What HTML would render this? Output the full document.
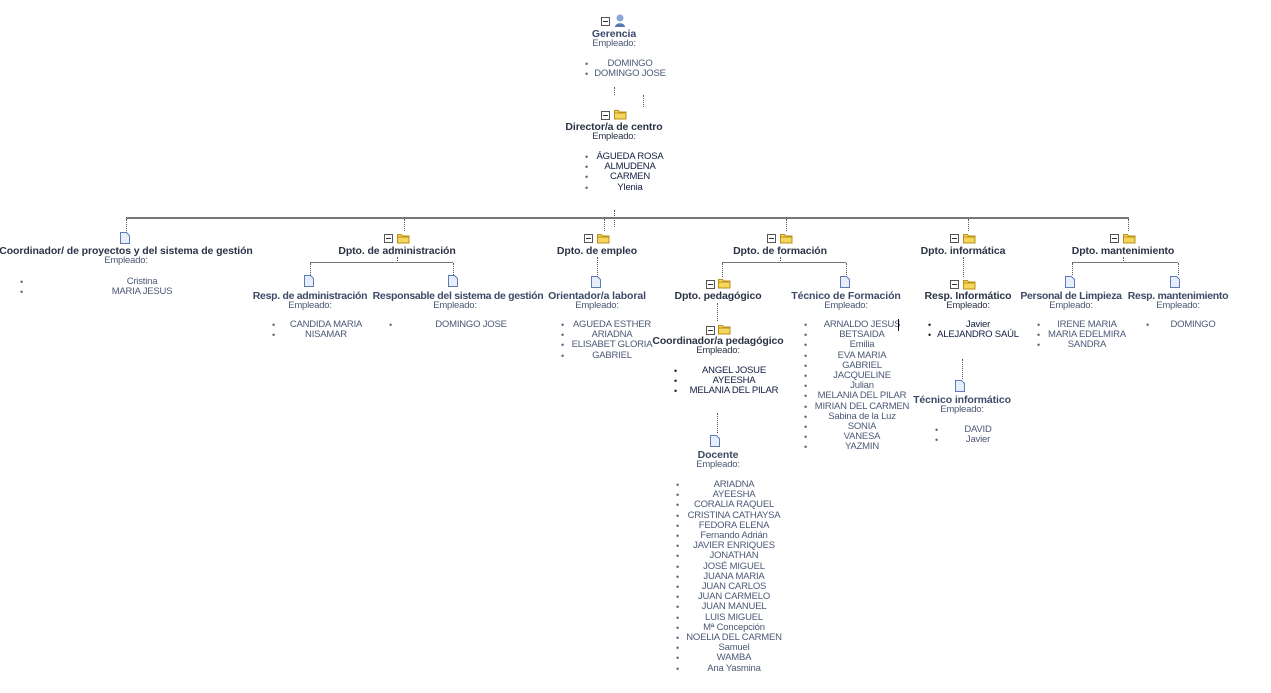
<!DOCTYPE html>
<html><head><meta charset="utf-8"><style>
body{margin:0;width:1271px;height:692px;background:#fff;overflow:hidden;font-family:"Liberation Sans","DejaVu Sans",sans-serif}
#w{position:absolute;left:0;top:1px;width:1271px;height:692px}
.t{position:absolute;width:300px;margin-left:-150px;text-align:center;white-space:nowrap;font-size:9.5px;color:#4b5875;line-height:10.2px;letter-spacing:-0.2px}
.b{font-weight:bold;font-size:10.5px;color:#2b3346;letter-spacing:-0.1px}
.d{color:#121c40}
.u{position:absolute;font-size:9px;line-height:10.2px;color:#667}
.h{position:absolute;height:0;border-top:2px solid #777}
.v{position:absolute;width:0;border-left:1px dotted #555}
.m{position:absolute;width:7px;height:7px;border:1px solid #555;background:#fff}
.m:after{content:"";position:absolute;left:1px;top:3px;width:5px;height:1px;background:#333}
svg{position:absolute}
</style></head><body><div id="w">
<svg width="0" height="0"><defs>
<g id="f"><path d="M0.5 2.5h4l1 1.5h6.5v7h-11.5z" fill="#f6d65a" stroke="#b8901a"/><path d="M0.5 5h11.5" stroke="#b8901a"/></g>
<g id="p"><path d="M0.5 0.5h6l3 3v8h-9z" fill="#e8eef9" stroke="#5a7ab8"/></g>
</defs></svg>

<div class="m" style="left:601px;top:16px"></div>
<svg style="left:614px;top:13px" width="12" height="14"><circle cx="6" cy="4" r="3.5" fill="#8aa6d6"/><path d="M1 13c0-5 10-5 10 0z" fill="#5a78b8"/></svg>
<div class="t b" style="left:614px;top:28px;color:#3a4a6a">Gerencia</div>
<div class="t" style="left:614px;top:38px">Empleado:</div>
<div class="u" style="left:585px;top:58px">•<br>•</div>
<div class="t" style="left:630px;top:58px">DOMINGO<br>DOMINGO JOSE</div>
<div class="v" style="left:614px;top:86px;height:8px"></div>
<div class="v" style="left:643px;top:94px;height:12px"></div>

<div class="m" style="left:601px;top:110px"></div>
<svg style="left:614px;top:107px" width="13" height="12"><use href="#f"/></svg>
<div class="t b" style="left:614px;top:121px">Director/a de centro</div>
<div class="t" style="left:614px;top:131px;color:#2b3346">Empleado:</div>
<div class="u" style="left:585px;top:151px">•<br>•<br>•<br>•</div>
<div class="t d" style="left:630px;top:151px">ÁGUEDA ROSA<br>ALMUDENA<br>CARMEN<br>Ylenia</div>
<div class="v" style="left:614px;top:209px;height:6px"></div>
<div class="h" style="left:126px;top:216px;width:1003px"></div>
<div class="v" style="left:614px;top:219px;height:7px"></div>

<div class="v" style="left:126px;top:218px;height:12px"></div>
<div class="v" style="left:404px;top:218px;height:12px"></div>
<div class="v" style="left:604px;top:218px;height:12px"></div>
<div class="v" style="left:786px;top:218px;height:12px"></div>
<div class="v" style="left:968px;top:218px;height:12px"></div>
<div class="v" style="left:1128px;top:218px;height:12px"></div>

<svg style="left:120px;top:231px" width="11" height="13"><use href="#p"/></svg>
<div class="t b" style="left:126px;top:245px">Coordinador/ de proyectos y del sistema de gestión</div>
<div class="t" style="left:126px;top:255px">Empleado:</div>
<div class="u" style="left:20px;top:276px">•<br>•</div>
<div class="t" style="left:142px;top:276px">Cristina<br>MARIA JESUS</div>

<div class="m" style="left:384px;top:233px"></div>
<svg style="left:397px;top:231px" width="13" height="12"><use href="#f"/></svg>
<div class="t b" style="left:397px;top:245px">Dpto. de administración</div>
<div class="v" style="left:397px;top:256px;height:6px"></div>
<div class="h" style="left:310px;top:261px;width:143px;border-top-width:1px"></div>
<div class="v" style="left:310px;top:262px;height:12px"></div>
<div class="v" style="left:453px;top:262px;height:12px"></div>
<svg style="left:304px;top:274px" width="11" height="13"><use href="#p"/></svg>
<svg style="left:448px;top:274px" width="11" height="13"><use href="#p"/></svg>
<div class="t b" style="left:310px;top:290px;color:#3d4a66;letter-spacing:-0.3px">Resp. de administración</div>
<div class="t" style="left:310px;top:300px">Empleado:</div>
<div class="u" style="left:272px;top:319px">•<br>•</div>
<div class="t" style="left:326px;top:319px">CANDIDA MARIA<br>NISAMAR</div>
<div class="t b" style="left:458px;top:290px;color:#3d4a66;letter-spacing:-0.3px">Responsable del sistema de gestión</div>
<div class="t" style="left:455px;top:300px">Empleado:</div>
<div class="u" style="left:389px;top:319px">•</div>
<div class="t" style="left:471px;top:319px">DOMINGO JOSE</div>

<div class="m" style="left:584px;top:233px"></div>
<svg style="left:597px;top:231px" width="13" height="12"><use href="#f"/></svg>
<div class="t b" style="left:597px;top:245px">Dpto. de empleo</div>
<div class="v" style="left:597px;top:256px;height:18px"></div>
<svg style="left:591px;top:275px" width="11" height="13"><use href="#p"/></svg>
<div class="t b" style="left:597px;top:290px;color:#3d4a66">Orientador/a laboral</div>
<div class="t" style="left:597px;top:300px">Empleado:</div>
<div class="u" style="left:561px;top:319px">•<br>•<br>•<br>•</div>
<div class="t" style="left:612px;top:319px">AGUEDA ESTHER<br>ARIADNA<br>ELISABET GLORIA<br>GABRIEL</div>

<div class="m" style="left:767px;top:233px"></div>
<svg style="left:780px;top:231px" width="13" height="12"><use href="#f"/></svg>
<div class="t b" style="left:780px;top:245px">Dpto. de formación</div>
<div class="v" style="left:780px;top:256px;height:6px"></div>
<div class="h" style="left:722px;top:261px;width:124px;border-top-width:1px"></div>
<div class="v" style="left:722px;top:262px;height:14px"></div>
<div class="v" style="left:846px;top:262px;height:12px"></div>
<div class="m" style="left:706px;top:279px"></div>
<svg style="left:718px;top:276px" width="13" height="12"><use href="#f"/></svg>
<svg style="left:840px;top:275px" width="11" height="13"><use href="#p"/></svg>
<div class="t b" style="left:718px;top:290px">Dpto. pedagógico</div>
<div class="v" style="left:717px;top:302px;height:18px"></div>
<div class="m" style="left:706px;top:325px"></div>
<svg style="left:718px;top:322px" width="13" height="12"><use href="#f"/></svg>
<div class="t b" style="left:718px;top:335px">Coordinador/a pedagógico</div>
<div class="t" style="left:718px;top:345px;color:#2b3346">Empleado:</div>
<div class="u" style="left:674px;top:365px;color:#222">•<br>•<br>•</div>
<div class="t d" style="left:734px;top:365px">ANGEL JOSUE<br>AYEESHA<br>MELANIA DEL PILAR</div>
<div class="v" style="left:717px;top:412px;height:20px"></div>
<svg style="left:710px;top:434px" width="11" height="13"><use href="#p"/></svg>
<div class="t b" style="left:718px;top:449px;color:#3d4a66">Docente</div>
<div class="t" style="left:718px;top:459px">Empleado:</div>
<div class="u" style="left:676px;top:479px">•<br>•<br>•<br>•<br>•<br>•<br>•<br>•<br>•<br>•<br>•<br>•<br>•<br>•<br>•<br>•<br>•<br>•<br>•</div>
<div class="t" style="left:734px;top:479px">ARIADNA<br>AYEESHA<br>CORALIA RAQUEL<br>CRISTINA CATHAYSA<br>FEDORA ELENA<br>Fernando Adrián<br>JAVIER ENRIQUES<br>JONATHAN<br>JOSÉ MIGUEL<br>JUANA MARIA<br>JUAN CARLOS<br>JUAN CARMELO<br>JUAN MANUEL<br>LUIS MIGUEL<br>Mª Concepción<br>NOELIA DEL CARMEN<br>Samuel<br>WAMBA<br>Ana Yasmina</div>
<div class="t b" style="left:846px;top:290px;color:#3d4a66">Técnico de Formación</div>
<div class="t" style="left:846px;top:300px">Empleado:</div>
<div class="u" style="left:804px;top:319px">•<br>•<br>•<br>•<br>•<br>•<br>•<br>•<br>•<br>•<br>•<br>•<br>•</div>
<div class="t" style="left:862px;top:319px">ARNALDO JESUS<br>BETSAIDA<br>Emilia<br>EVA MARIA<br>GABRIEL<br>JACQUELINE<br>Julian<br>MELANIA DEL PILAR<br>MIRIAN DEL CARMEN<br>Sabina de la Luz<br>SONIA<br>VANESA<br>YAZMIN</div>
<div style="position:absolute;left:898px;top:318px;width:1px;height:12px;background:#000"></div>

<div class="m" style="left:950px;top:233px"></div>
<svg style="left:963px;top:231px" width="13" height="12"><use href="#f"/></svg>
<div class="t b" style="left:963px;top:245px">Dpto. informática</div>
<div class="v" style="left:963px;top:256px;height:20px"></div>
<div class="m" style="left:950px;top:279px"></div>
<svg style="left:963px;top:277px" width="13" height="12"><use href="#f"/></svg>
<div class="t b" style="left:968px;top:290px">Resp. Informático</div>
<div class="t" style="left:968px;top:300px;color:#2b3346">Empleado:</div>
<div class="u" style="left:928px;top:319px;color:#222">•<br>•</div>
<div class="t d" style="left:978px;top:319px">Javier<br>ALEJANDRO SAÚL</div>
<div class="v" style="left:962px;top:358px;height:20px"></div>
<svg style="left:955px;top:379px" width="11" height="13"><use href="#p"/></svg>
<div class="t b" style="left:962px;top:394px;color:#3d4a66">Técnico informático</div>
<div class="t" style="left:962px;top:404px">Empleado:</div>
<div class="u" style="left:935px;top:424px">•<br>•</div>
<div class="t" style="left:978px;top:424px">DAVID<br>Javier</div>

<div class="m" style="left:1110px;top:233px"></div>
<svg style="left:1123px;top:231px" width="13" height="12"><use href="#f"/></svg>
<div class="t b" style="left:1123px;top:245px">Dpto. mantenimiento</div>
<div class="v" style="left:1123px;top:256px;height:6px"></div>
<div class="h" style="left:1072px;top:261px;width:106px;border-top-width:1px"></div>
<div class="v" style="left:1072px;top:262px;height:12px"></div>
<div class="v" style="left:1178px;top:262px;height:12px"></div>
<svg style="left:1065px;top:275px" width="11" height="13"><use href="#p"/></svg>
<svg style="left:1170px;top:275px" width="11" height="13"><use href="#p"/></svg>
<div class="t b" style="left:1071px;top:290px;color:#3d4a66;letter-spacing:-0.3px">Personal de Limpieza</div>
<div class="t" style="left:1071px;top:300px">Empleado:</div>
<div class="u" style="left:1037px;top:319px">•<br>•<br>•</div>
<div class="t" style="left:1087px;top:319px">IRENE MARIA<br>MARIA EDELMIRA<br>SANDRA</div>
<div class="t b" style="left:1178px;top:290px;color:#3d4a66;letter-spacing:-0.3px">Resp. mantenimiento</div>
<div class="t" style="left:1178px;top:300px">Empleado:</div>
<div class="u" style="left:1146px;top:319px">•</div>
<div class="t" style="left:1193px;top:319px">DOMINGO</div>
</div></body></html>
